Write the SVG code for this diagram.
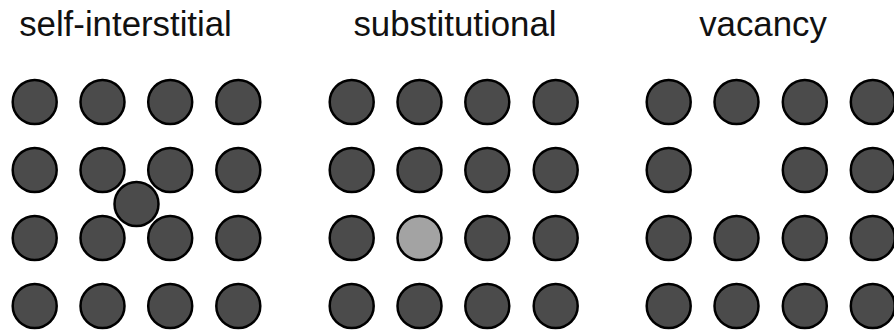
<svg xmlns="http://www.w3.org/2000/svg" width="894" height="330" viewBox="0 0 894 330">
<defs>
<style>
.t{font-family:"Liberation Sans",Arial,sans-serif;font-size:34.8px;fill:#111;text-anchor:middle}
.a{fill:#4b4b4b;stroke:#000;stroke-width:2.5}
.s{fill:#a3a3a3;stroke:#000;stroke-width:2.5}
</style>
<circle id="atom" r="22" class="a"/>
</defs>
<rect width="894" height="330" fill="#fff"/>
<text class="t" x="125.5" y="36">self-interstitial</text>
<text class="t" x="455" y="36">substitutional</text>
<text class="t" x="763" y="36">vacancy</text>
<g id="panel-self-interstitial">
<use href="#atom" x="34.7" y="102"/><use href="#atom" x="102.5" y="102"/><use href="#atom" x="170.2" y="102"/><use href="#atom" x="238.3" y="102"/>
<use href="#atom" x="34.7" y="170"/><use href="#atom" x="102.5" y="170"/><use href="#atom" x="170.2" y="170"/><use href="#atom" x="238.3" y="170"/>
<use href="#atom" x="34.7" y="238"/><use href="#atom" x="102.5" y="238"/><use href="#atom" x="170.2" y="238"/><use href="#atom" x="238.3" y="238"/>
<use href="#atom" x="34.7" y="306"/><use href="#atom" x="102.5" y="306"/><use href="#atom" x="170.2" y="306"/><use href="#atom" x="238.3" y="306"/>
<circle id="interstitial" cx="136.5" cy="204" r="22" class="a"/>
</g>
<g id="panel-substitutional">
<use href="#atom" x="351.7" y="102"/><use href="#atom" x="419.5" y="102"/><use href="#atom" x="487.3" y="102"/><use href="#atom" x="555.7" y="102"/>
<use href="#atom" x="351.7" y="170"/><use href="#atom" x="419.5" y="170"/><use href="#atom" x="487.3" y="170"/><use href="#atom" x="555.7" y="170"/>
<use href="#atom" x="351.7" y="238"/><circle id="substitute" cx="419.5" cy="238" r="22" class="s"/><use href="#atom" x="487.3" y="238"/><use href="#atom" x="555.7" y="238"/>
<use href="#atom" x="351.7" y="306"/><use href="#atom" x="419.5" y="306"/><use href="#atom" x="487.3" y="306"/><use href="#atom" x="555.7" y="306"/>
</g>
<g id="panel-vacancy">
<use href="#atom" x="668.7" y="102"/><use href="#atom" x="736.5" y="102"/><use href="#atom" x="804.8" y="102"/><use href="#atom" x="872.8" y="102"/>
<use href="#atom" x="668.7" y="170"/><use href="#atom" x="804.8" y="170"/><use href="#atom" x="872.8" y="170"/>
<use href="#atom" x="668.7" y="238"/><use href="#atom" x="736.5" y="238"/><use href="#atom" x="804.8" y="238"/><use href="#atom" x="872.8" y="238"/>
<use href="#atom" x="668.7" y="306"/><use href="#atom" x="736.5" y="306"/><use href="#atom" x="804.8" y="306"/><use href="#atom" x="872.8" y="306"/>
</g>
</svg>
